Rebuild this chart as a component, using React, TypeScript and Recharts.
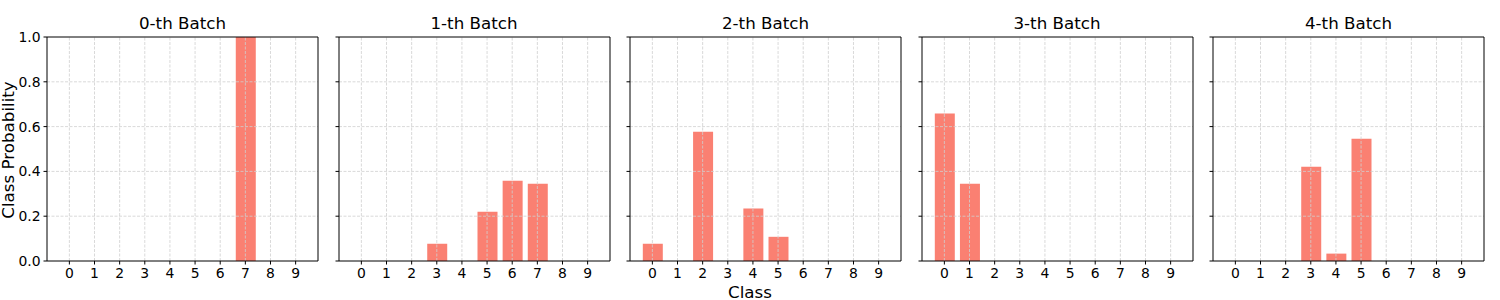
import { BarChart, Bar, XAxis, YAxis, ReferenceLine } from "recharts";

const classes = [0, 1, 2, 3, 4, 5, 6, 7, 8, 9];
const batchTitles = ["0-th Batch", "1-th Batch", "2-th Batch", "3-th Batch", "4-th Batch"];

const batch0 = [0, 0, 0, 0, 0, 0, 0, 1.0, 0, 0];
const batch1 = [0, 0, 0, 0.077, 0, 0.22, 0.358, 0.345, 0, 0];
const batch2 = [0.077, 0, 0.577, 0, 0.234, 0.108, 0, 0, 0, 0];
const batch3 = [0.658, 0.345, 0, 0, 0, 0, 0, 0, 0, 0];
const batch4 = [0, 0, 0, 0.421, 0.033, 0.546, 0, 0, 0, 0];

const batches = [batch0, batch1, batch2, batch3, batch4];
const yTicks = [0, 0.2, 0.4, 0.6, 0.8, 1.0];
const yGrid = [0.2, 0.4, 0.6, 0.8];

const FONT = "'DejaVu Sans', sans-serif";
const GRID = "#cfcfcf";
const X_MIN = -0.89;
const X_MAX = 9.89;

function Panel({ values, title, index }: { values: number[]; title: string; index: number }) {
  const data = classes.map((c, i) => ({ cls: c, p: values[i] }));
  const axLeft = 47 + index * 291.5;
  const yw = 40;
  return (
    <div style={{ position: "absolute", left: axLeft - yw, top: 0, width: 320, height: 300 }}>
      <div
        style={{
          position: "absolute",
          left: yw,
          width: 271,
          top: 12,
          lineHeight: "22px",
          textAlign: "center",
          fontFamily: FONT,
          fontSize: 16.7,
          color: "#000",
        }}
      >
        {title}
      </div>
      <BarChart width={320} height={300} data={data} margin={{ top: 37, right: 9, bottom: 9, left: 0 }}>
        <XAxis
          dataKey="cls"
          type="number"
          domain={[X_MIN, X_MAX]}
          ticks={classes}
          allowDataOverflow
          interval={0}
          height={30}
          tickSize={3.5}
          tickMargin={4}
          stroke="#000"
          tick={{ fill: "#000", fontSize: 13.9, fontFamily: FONT }}
        />
        <YAxis
          type="number"
          domain={[0, 1]}
          ticks={yTicks}
          width={yw}
          interval={0}
          tickSize={3.5}
          tickMargin={3}
          stroke="#000"
          tickFormatter={(v: number) => (index === 0 ? v.toFixed(1) : "")}
          tick={{ fill: "#000", fontSize: 13.9, fontFamily: FONT }}
        />
        <Bar dataKey="p" fill="#fa8072" barSize={20} isAnimationActive={false} />
        {classes.map((c) => (
          <ReferenceLine key={"v" + c} x={c} stroke={GRID} strokeWidth={0.8} strokeDasharray="3 1.5" />
        ))}
        {yGrid.map((t) => (
          <ReferenceLine key={"h" + t} y={t} stroke={GRID} strokeWidth={0.8} strokeDasharray="3 1.5" />
        ))}
        <ReferenceLine y={1} stroke="#000" strokeWidth={1} />
        <ReferenceLine x={X_MAX} stroke="#000" strokeWidth={1} />
      </BarChart>
    </div>
  );
}

export default function App() {
  return (
    <div style={{ position: "absolute", left: 0, top: 0, width: 1500, height: 300, background: "#fff" }}>
      {batches.map((b, i) => (
        <Panel key={i} values={b} title={batchTitles[i]} index={i} />
      ))}
      <div
        style={{
          position: "absolute",
          left: 750,
          top: 283,
          lineHeight: "18px",
          transform: "translateX(-50%)",
          fontFamily: FONT,
          fontSize: 16.7,
          whiteSpace: "nowrap",
        }}
      >
        Class
      </div>
      <div
        style={{
          position: "absolute",
          left: 8,
          top: 150,
          transform: "translate(-50%, -50%) rotate(-90deg)",
          fontFamily: FONT,
          fontSize: 16.7,
          whiteSpace: "nowrap",
        }}
      >
        Class Probability
      </div>
    </div>
  );
}
